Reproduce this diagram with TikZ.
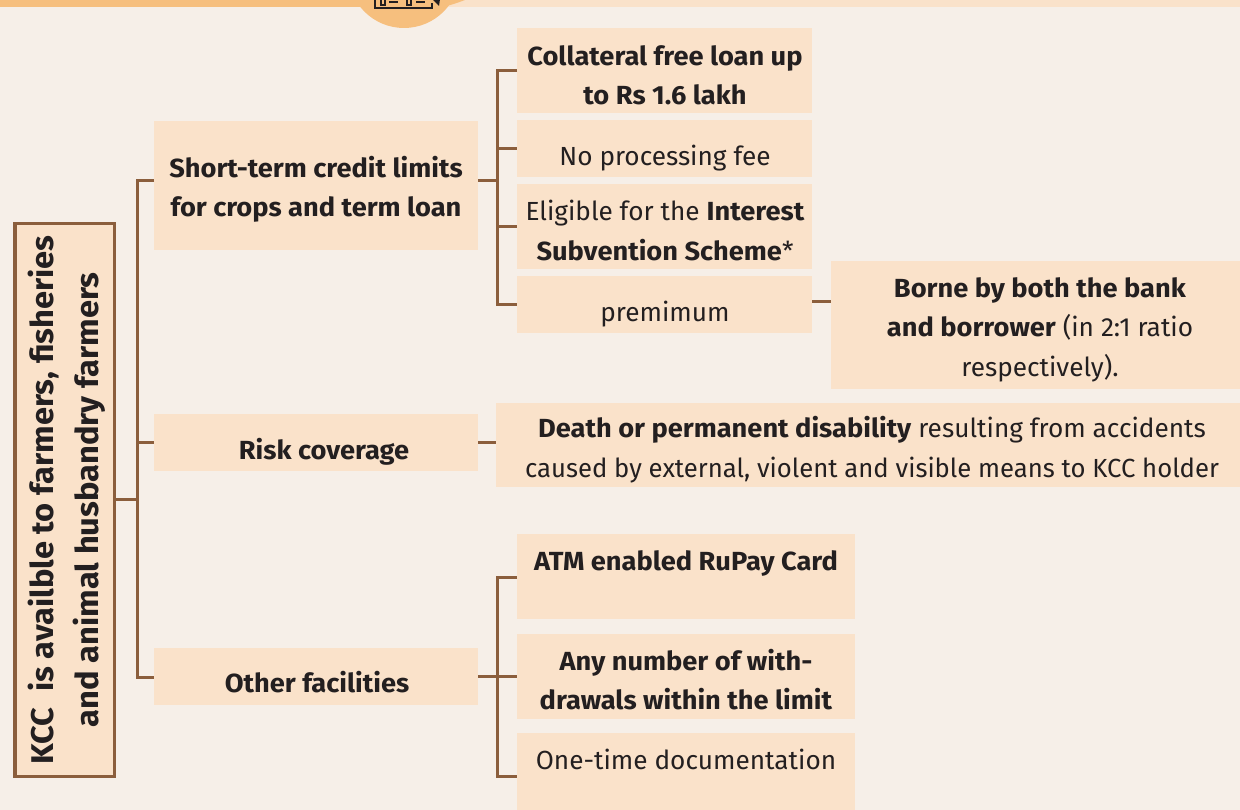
\documentclass[tikz,border=0pt]{standalone}
\usepackage{fontspec}
\setmainfont{Fira Sans}[BoldFeatures={FakeStretch=1.04}]
\definecolor{bgc}{HTML}{F6EFE8}
\definecolor{boxc}{HTML}{FAE2CA}
\definecolor{linec}{HTML}{8B5E3C}
\definecolor{orangec}{HTML}{F6BF7E}
\definecolor{inkc}{HTML}{231F20}
\tikzset{
 pbox/.style={fill=boxc,draw=none,inner sep=0pt,outer sep=0pt,anchor=north west},
 ptext/.style={text=inkc,font=\fontsize{26.2}{39}\selectfont,align=center,inner sep=0pt,anchor=base,yshift=-0.7pt},
 vtext/.style={text=inkc,font=\fontsize{31.4}{39}\selectfont,align=center,inner sep=0pt,anchor=base,rotate=90},
 conn/.style={draw=linec,line width=3pt},
}
\newcommand{\pb}[5]{\node[pbox,minimum width=#3pt-#2pt,minimum height=#5pt-#4pt] (#1) at (#2,#4) {};}
\begin{document}
\begin{tikzpicture}[x=1pt,y=-1pt]
\useasboundingbox (0,0) rectangle (1240,810);
\fill[bgc] (0,0) rectangle (1240,810);
% header band
\fill[boxc] (0,0) rectangle (1240,7);
\fill[orangec] (0,0) -- (465,0) .. controls (457,3) and (451,5) .. (443,7) -- (0,7) -- cycle;
\begin{scope}
\clip (0,0) rectangle (1240,810);
\fill[orangec] (404,-28) circle (56);
\draw[inkc,line width=2.2pt] (375,-6) -- (375,8) -- (432,8) -- (432,3);
\draw[inkc,line width=2pt] (381,0) -- (381,5) -- (385,5) -- (385,0) (389,2)--(398,2) (407,0) -- (407,5) -- (411,5) -- (411,0) (416,2)--(425,2);
\fill[inkc] (432,-1) -- (440,-1) -- (439,6) -- cycle;
\end{scope}
% boxes
\pb{a}{154}{478}{121}{250}
\pb{b}{154}{478}{414}{471}
\pb{c}{154}{478}{648}{705}
\pb{a1}{517}{812}{28}{113}
\pb{a2}{517}{812}{120}{177}
\pb{a3}{517}{812}{184}{269}
\pb{a4}{517}{812}{276}{333}
\pb{a5}{831}{1240}{261}{389}
\pb{b1}{496}{1240}{403}{487}
\pb{c1}{517}{855}{534}{619}
\pb{c2}{517}{855}{634}{719}
\pb{c3}{517}{855}{733}{810}
\node[pbox,draw=linec,line width=3.5pt,minimum width=99.5pt,minimum height=552.5pt] (m) at (14.75,223.75) {};
% connectors
\coordinate (t0) at (137,499);
\coordinate (t1) at (497,181);
\coordinate (t3) at (497,676);
\draw[conn] (m.east |- t0) -- (t0);
\draw[conn] (a.west |- 0,181) -| (t0 |- 0,181) -- (t0 |- 0,677) -- (c.west |- 0,677);
\draw[conn] (t0 |- b.west) -- (b.west);
\draw[conn] (a.east |- t1) -- (t1);
\draw[conn] (a1.west |- 0,71) -| (t1 |- 0,71) -- (t1 |- 0,305) -- (a4.west |- 0,305);
\draw[conn] (t1 |- a2.west) -- (a2.west);
\draw[conn] (t1 |- a3.west) -- (a3.west);
\draw[conn] (a4.east |- 0,302) -- (a5.west |- 0,302);
\draw[conn] (b.east) -- (b1.west |- b.east);
\draw[conn] (c.east |- t3) -- (t3);
\draw[conn] (c1.west |- 0,577) -| (t3 |- 0,577) -- (t3 |- 0,776) -- (c3.west |- 0,776);
\draw[conn] (t3) -- (c2.west |- t3);
% texts
\node[vtext] (tm1) at (53,500) {\textbf{KCC\ \ is availble to farmers, fisheries}};
\node[vtext] (tm2) at (98,500) {\textbf{and animal husbandry farmers}};
\node[ptext] (ta1) at (316,177) {\textbf{Short-term credit limits}};
\node[ptext] (ta2) at (316,216) {\textbf{for crops and term loan}};
\node[ptext] (tb) at (324,459) {\textbf{Risk coverage}};
\node[ptext] (tc) at (317,692) {\textbf{Other facilities}};
\node[ptext] (t11) at (665,65) {\textbf{Collateral free loan up}};
\node[ptext] (t12) at (665,104) {\textbf{to Rs 1.6 lakh}};
\node[ptext] (t2) at (665,165) {No processing fee};
\node[ptext] (t31) at (665,220) {Eligible for the \textbf{Interest}};
\node[ptext] (t32) at (665,260) {\textbf{Subvention Scheme}*};
\node[ptext] (t4) at (665,321) {premimum};
\node[ptext] (t51) at (1040,297) {\textbf{Borne by both the bank}};
\node[ptext] (t52) at (1040,336) {\textbf{and borrower} (in 2:1 ratio};
\node[ptext] (t53) at (1040,376) {respectively).};
\node[ptext] (tb1) at (872,437) {\textbf{Death or permanent disability} resulting from accidents};
\node[ptext,xscale=.98] (tb2) at (872,477) {caused by external, violent and visible means to KCC holder};
\node[ptext] (tc1) at (686,570) {\textbf{ATM enabled RuPay Card}};
\node[ptext] (tc21) at (686,670) {\textbf{Any number of with-}};
\node[ptext] (tc22) at (686,709) {\textbf{drawals within the limit}};
\node[ptext] (tc3) at (686,769) {One-time documentation};
\end{tikzpicture}
\end{document}
